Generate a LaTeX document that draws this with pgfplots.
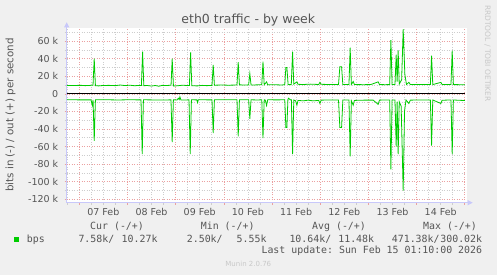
\documentclass[border=0pt]{standalone}
\usepackage{pgfplots}
\pgfplotsset{compat=1.18}
\usepackage{fontspec}
\setmainfont{DejaVu Sans}
\setmonofont{DejaVu Sans Mono}
\usetikzlibrary{arrows.meta}
\definecolor{bgc}{RGB}{240,240,240}
\definecolor{gridc}{RGB}{205,205,205}
\definecolor{mgridc}{RGB}{235,160,160}
\definecolor{axisc}{RGB}{200,200,250}
\definecolor{txtc}{RGB}{85,85,85}
\definecolor{lgc}{RGB}{200,200,200}
\definecolor{munin}{RGB}{0,204,0}
\begin{document}
\begin{tikzpicture}[x=1pt,y=1pt]
\fill[bgc] (0,0) rectangle (497,275);
\useasboundingbox (0,0) rectangle (497,275);
\begin{axis}[
  at={(66.7pt,72.3pt)}, anchor=south west,
  width=400pt, height=174.4pt, scale only axis,
  xmin=-0.26, xmax=8.04, ymin=-123.8, ymax=74.5,
  axis background/.style={fill=white},
  axis x line*=bottom, axis y line*=left,
  axis line style={draw=axisc, line width=0.8pt},
  x axis line style={-{Triangle[length=5pt,width=5pt]}, shorten >=-6pt},
  y axis line style={-{Triangle[length=5pt,width=5pt]}, shorten >=-6pt},
  grid=both,
  major grid style={draw=mgridc, dash pattern=on 1pt off 1.5pt, line width=0.6pt},
  minor grid style={draw=gridc, dash pattern=on 1pt off 1.5pt, line width=0.6pt},
  tick align=outside, major tick length=2pt, minor tick length=2pt,
  major tick style={draw=mgridc, line width=0.6pt},
  minor tick style={draw=gridc, line width=0.6pt},
  xtick={0,1,2,3,4,5,6,7,8},
  xticklabels={,,,,,,,,},
  minor xtick={-0.25,0.25,0.5,0.75,1.25,1.5,1.75,2.25,2.5,2.75,3.25,3.5,3.75,4.25,4.5,4.75,5.25,5.5,5.75,6.25,6.5,6.75,7.25,7.5,7.75},
  extra x ticks={0.5,1.5,2.5,3.5,4.5,5.5,6.5,7.5},
  extra x tick labels={07 Feb,08 Feb,09 Feb,10 Feb,11 Feb,12 Feb,13 Feb,14 Feb},
  extra x tick style={grid=none, major tick length=0pt},
  ytick={-120,-100,-80,-60,-40,-20,0,20,40,60},
  yticklabels={-120 k,-100 k,-80 k,-60 k,-40 k,-20 k,0,20 k,40 k,60 k},
  minor ytick={-110,-90,-70,-50,-30,-10,10,30,50,70},
  ticklabel style={font=\fontsize{9.5}{11}\selectfont, text=txtc},
  xticklabel style={yshift=-2pt},
  yticklabel style={xshift=-3pt},
  clip=false,
]
\addplot[black, line width=1pt] coordinates {(-0.26,0) (8.0,0)};
\addplot[munin, line width=0.8pt] coordinates {
(-0.255,9.5) (0.05,9.6) (0.12,9.3) (0.20,9.5) (0.286,9.8) (0.311,40) (0.336,9.3)
(0.40,9.0) (0.50,9.5) (0.62,9.6) (0.75,9.3) (0.85,10.0) (0.95,9.4) (1.05,9.8)
(1.15,9.2) (1.25,9.6) (1.29,9.5) (1.315,48) (1.34,9.3) (1.42,9.4) (1.50,8.8)
(1.58,9.5) (1.65,8.6) (1.72,9.6) (1.80,9.4) (1.905,9.8) (1.929,40) (1.955,8.8)
(2.05,9.2) (2.15,9.8) (2.24,9.4) (2.286,9.5) (2.311,47) (2.336,9.2) (2.45,9.0)
(2.55,9.6) (2.65,9.3) (2.755,9.6) (2.780,33) (2.805,9.8) (2.95,10.0) (3.10,9.8)
(3.274,10.0) (3.299,36) (3.324,10.2) (3.45,10.0) (3.515,10.2) (3.540,23) (3.565,10.0)
(3.70,10.2) (3.788,10.2) (3.813,36.7) (3.838,10.3) (3.888,13.6) (3.91,10.2) (4.05,10.4)
(4.20,10.0) (4.265,10.4) (4.288,30) (4.309,30) (4.334,10.6) (4.40,10.4) (4.427,48)
(4.452,11.0) (4.517,13.6) (4.54,10.8) (4.65,10.6) (4.80,11.0) (4.97,10.6) (4.994,13)
(5.02,10.8) (5.20,10.6) (5.38,10.6) (5.408,30.7) (5.444,30.7) (5.47,10.5) (5.597,10.5)
(5.622,52.6) (5.647,10.6) (5.685,14) (5.71,10.5) (5.90,10.4) (6.05,10.5) (6.203,13.6)
(6.23,10.5) (6.35,10.4) (6.442,10.5) (6.467,61) (6.492,10.6) (6.552,10.6) (6.577,44.6)
(6.597,14) (6.618,49.5) (6.64,11) (6.69,16) (6.722,73.4) (6.757,22) (6.79,10.6)
(6.84,13) (6.87,10.6) (7.00,10.5) (7.15,10.6) (7.286,10.5) (7.311,43.5) (7.336,10.5)
(7.504,13) (7.53,10.6) (7.714,10.5) (7.739,49) (7.764,10.5) (7.90,10.4) (8.0,10.3)
};
\addplot[munin, line width=0.8pt] coordinates {
(-0.255,-6.8) (0.10,-6.9) (0.245,-6.9) (0.270,-13) (0.287,-7) (0.311,-53.4) (0.336,-6.8)
(0.60,-6.8) (0.80,-7.0) (1.00,-6.8) (1.282,-6.9) (1.307,-68.6) (1.332,-6.8) (1.60,-7.0)
(1.904,-6.9) (1.929,-55) (1.954,-6.8) (2.03,-7.0) (2.058,-5) (2.075,-6.5) (2.089,-3.5)
(2.11,-7) (2.278,-6.9) (2.303,-68.6) (2.328,-6.8) (2.44,-6.9) (2.456,-10) (2.47,-6.8)
(2.755,-6.9) (2.780,-44.7) (2.805,-6.8) (3.05,-6.8) (3.274,-6.8) (3.299,-48.5) (3.324,-6.8)
(3.515,-6.8) (3.540,-28.4) (3.565,-6.8) (3.70,-7.0) (3.788,-6.8) (3.813,-50.4) (3.838,-6.8)
(3.86,-7) (3.888,-13.3) (3.91,-6.8) (4.10,-6.9) (4.265,-6.8) (4.288,-38.3) (4.309,-38.3)
(4.33,-6.5) (4.344,-5) (4.38,-6.8) (4.402,-6.8) (4.427,-68.6) (4.452,-7) (4.49,-8)
(4.517,-13) (4.54,-7.5) (4.65,-8) (4.75,-7.2) (4.85,-8) (4.97,-7.5) (4.994,-11)
(5.02,-7.2) (5.20,-7) (5.38,-7) (5.408,-38.3) (5.444,-38.3) (5.47,-7) (5.597,-7)
(5.622,-71) (5.647,-8) (5.685,-13) (5.71,-7.5) (5.90,-7.2) (6.10,-7.2) (6.203,-12)
(6.23,-7.2) (6.35,-7) (6.442,-7) (6.467,-86) (6.492,-7) (6.552,-7) (6.577,-60)
(6.597,-9) (6.618,-68.6) (6.64,-9) (6.68,-14) (6.722,-110) (6.75,-20) (6.78,-7)
(6.84,-11) (6.87,-7.2) (7.05,-7) (7.286,-7) (7.311,-58.8) (7.336,-7) (7.504,-11)
(7.53,-7.3) (7.714,-7) (7.739,-68.6) (7.764,-7) (7.90,-7.4) (8.0,-7.6)
};
\end{axis}
% title and labels
\node[anchor=base, text=txtc, font=\fontsize{12.5}{14}\selectfont] at (248.3,251) {eth0 traffic - by week};
\node[rotate=90, anchor=center, text=txtc, font=\fontsize{10.3}{12}\selectfont] at (10.5,160) {bits in (-) / out (+) per second};
\node[rotate=-90, anchor=center, text=lgc, font=\fontsize{7.5}{9}\selectfont] at (487.5,221.5) {RRDTOOL / TOBI OETIKER};
% legend
\begin{scope}[every node/.style={inner sep=0pt, text=txtc, font=\ttfamily\fontsize{9.9}{11}\selectfont}]
\node[anchor=base west] at (90,45) {Cur (-/+)};
\node[anchor=base west] at (200.7,45) {Min (-/+)};
\node[anchor=base west] at (312,45) {Avg (-/+)};
\node[anchor=base west] at (423,45) {Max (-/+)};
\fill[munin] (14,32.9) rectangle (19.4,38.3);
\node[anchor=base west] at (26.7,32.7) {bps};
\node[anchor=base west] at (78.3,32.7) {7.58k/};
\node[anchor=base east] at (157.7,32.7) {10.27k};
\node[anchor=base west] at (186.7,32.7) {2.50k/};
\node[anchor=base east] at (266.7,32.7) {5.55k};
\node[anchor=base west] at (289.3,32.7) {10.64k/};
\node[anchor=base east] at (374.3,32.7) {11.48k};
\node[anchor=base west] at (391.7,32.7) {471.38k/};
\node[anchor=base east] at (482.3,32.7) {300.02k};
\node[anchor=base east] at (482.3,21.7) {Last update: Sun Feb 15 01:10:00 2026};
\end{scope}
\node[anchor=base, inner sep=0pt, text=lgc, font=\fontsize{7}{8}\selectfont] at (248.3,8.5) {Munin 2.0.76};
\end{tikzpicture}
\end{document}
